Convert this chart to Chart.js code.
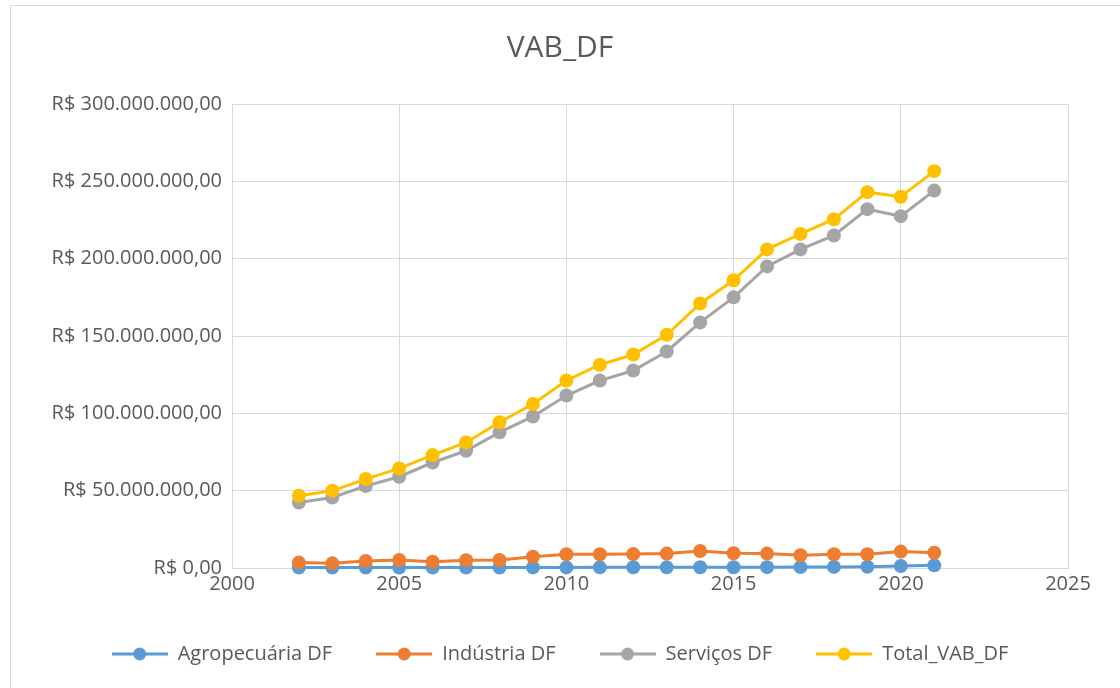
<!DOCTYPE html>
<html>
<head>
<meta charset="utf-8">
<script src="https://cdn.jsdelivr.net/npm/chart.js@4"></script>
<style>
  html, body { margin: 0; padding: 0; background: #fff; }
  #wrap { position: relative; width: 1120px; height: 688px; }
</style>
</head>
<body>
<div id="wrap"><canvas id="vabChart" width="1120" height="688"></canvas></div>
<script>
// data (R$)
const years = [2002, 2003, 2004, 2005, 2006, 2007, 2008, 2009, 2010, 2011,
               2012, 2013, 2014, 2015, 2016, 2017, 2018, 2019, 2020, 2021];

const agropecuaria = [250000, 260000, 300000, 320000, 300000, 330000, 360000, 380000, 400000, 420000,
                      450000, 420000, 480000, 500000, 560000, 580000, 700000, 850000, 1300000, 1700000];

const industria = [3500000, 3000000, 4500000, 5200000, 4100000, 5000000, 5200000, 7300000, 8900000, 8900000,
                   9000000, 9300000, 11000000, 9500000, 9300000, 8200000, 8900000, 8900000, 10600000, 9900000];

const servicos = [42300000, 45600000, 53000000, 59000000, 68200000, 75800000, 87700000, 98000000, 111500000, 121200000,
                  127700000, 140000000, 158800000, 175000000, 195000000, 206000000, 215000000, 232000000, 227500000, 244000000];

const totalVab = [46700000, 50000000, 57500000, 64400000, 73000000, 81200000, 94200000, 106000000, 121200000, 131400000,
                  138000000, 150800000, 171000000, 186000000, 206000000, 216000000, 225500000, 243000000, 240000000, 256600000];

const seriesNames = ['Agropecuária DF', 'Indústria DF', 'Serviços DF', 'Total_VAB_DF'];
const seriesColors = ['#5B9BD5', '#ED7D31', '#A5A5A5', '#FFC000'];

const FONT = "'Open Sans', 'Noto Sans', sans-serif";
const TEXT = '#595959';
const GRID = '#D9D9D9';

// R$ 1.234.567,00 style
function formatBRL(v) {
    const parts = Math.round(v).toString().replace(/\B(?=(\d{3})+(?!\d))/g, '.');
    return 'R$ ' + parts + ',00';
}

function toPoints(values) {
    return years.map((y, i) => ({ x: y, y: values[i] }));
}

// legend marker: short line with a dot in the middle (Excel style)
function legendMarker(color) {
    const c = document.createElement('canvas');
    c.width = 56;
    c.height = 14;
    const g = c.getContext('2d');
    g.strokeStyle = color;
    g.lineWidth = 3;
    g.beginPath();
    g.moveTo(0, 7);
    g.lineTo(56, 7);
    g.stroke();
    g.fillStyle = color;
    g.beginPath();
    g.arc(28, 7, 6.5, 0, Math.PI * 2);
    g.fill();
    return c;
}

// thin frame like the Excel chart area
const framePlugin = {
    id: 'frame',
    beforeDraw(chart) {
        const ctx = chart.ctx;
        ctx.save();
        ctx.strokeStyle = GRID;
        ctx.lineWidth = 1;
        ctx.beginPath();
        ctx.moveTo(10.5, chart.height);
        ctx.lineTo(10.5, 5.5);
        ctx.lineTo(chart.width, 5.5);
        ctx.stroke();
        ctx.restore();
    }
};

const allSeries = [agropecuaria, industria, servicos, totalVab];

const datasets = allSeries.map((vals, i) => ({
    label: seriesNames[i],
    data: toPoints(vals),
    borderColor: seriesColors[i],
    backgroundColor: seriesColors[i],
    borderWidth: 3,
    pointRadius: 7,
    pointHoverRadius: 7,
    pointBorderWidth: 0,
    pointStyle: 'circle',
    showLine: true,
    fill: false,
    tension: 0,
    clip: false,
    order: allSeries.length - i
}));

new Chart(document.getElementById('vabChart').getContext('2d'), {
    type: 'scatter',
    data: { datasets: datasets },
    plugins: [framePlugin],
    options: {
        responsive: false,
        animation: false,
        layout: { padding: { left: 10, right: 10, top: 0, bottom: 14 } },
        plugins: {
            title: {
                display: true,
                text: 'VAB_DF',
                color: TEXT,
                font: { family: FONT, size: 30, weight: 'normal' },
                padding: { top: 30, bottom: 38 }
            },
            legend: {
                position: 'bottom',
                labels: {
                    color: TEXT,
                    font: { family: FONT, size: 20 },
                    usePointStyle: true,
                    pointStyleWidth: 56,
                    padding: 44,
                    generateLabels(chart) {
                        return chart.data.datasets.map((ds, i) => ({
                            text: ds.label,
                            pointStyle: legendMarker(seriesColors[i]),
                            fillStyle: seriesColors[i],
                            strokeStyle: seriesColors[i],
                            lineWidth: 0,
                            fontColor: TEXT,
                            hidden: false,
                            datasetIndex: i
                        }));
                    }
                }
            },
            tooltip: { enabled: false }
        },
        scales: {
            x: {
                type: 'linear',
                min: 2000,
                max: 2025,
                border: { color: GRID },
                grid: { color: GRID, drawTicks: false },
                ticks: {
                    stepSize: 5,
                    color: TEXT,
                    padding: 4,
                    font: { family: FONT, size: 20 },
                    callback: v => String(v)
                }
            },
            y: {
                min: 0,
                max: 300000000,
                border: { color: GRID },
                grid: { color: GRID, drawTicks: false },
                ticks: {
                    stepSize: 50000000,
                    color: TEXT,
                    padding: 10,
                    font: { family: FONT, size: 20 },
                    callback: v => formatBRL(v)
                },
                afterFit(scale) { scale.width = 222; }
            },
            // empty right-hand axis, only keeps the plot's right margin
            yRight: {
                position: 'right',
                min: 0,
                max: 1,
                grid: { display: false, drawTicks: false },
                border: { display: false },
                ticks: { display: false },
                afterFit(scale) { scale.width = 42; }
            }
        }
    }
});
</script>
</body>
</html>
